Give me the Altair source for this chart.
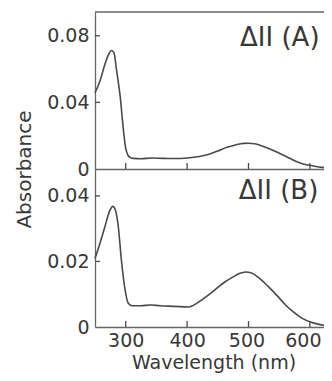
import altair as alt
import pandas as pd

# ---- data ----
wl_a = [250, 258, 266, 272, 277, 281, 285, 288, 291, 294, 297, 300, 303, 307, 312,
        325, 343, 360, 380, 400, 420, 437, 450, 465, 480, 492, 500, 510, 522, 535,
        550, 563, 576, 589, 606, 620, 636]
abs_a = [0.0458, 0.0527, 0.0627, 0.0687, 0.0712, 0.0697, 0.0597, 0.052, 0.0438, 0.032,
         0.021, 0.0125, 0.0088, 0.0070, 0.0064, 0.0062, 0.0066, 0.0064, 0.0063, 0.0066,
         0.0075, 0.0090, 0.0108, 0.0130, 0.0146, 0.0154, 0.0155, 0.0152, 0.0138, 0.0120,
         0.0095, 0.0072, 0.0048, 0.0030, 0.0018, 0.0010, 0.0006]

wl_b = [250, 258, 266, 274, 279, 284, 288, 293, 299, 304, 310, 325, 340, 356, 380,
        402, 410, 421, 435, 449, 462, 475, 485, 495, 505, 519, 532, 547, 560, 573,
        587, 601, 615, 633]
abs_b = [0.0209, 0.0255, 0.0305, 0.0355, 0.0368, 0.0352, 0.0305, 0.0204, 0.0113, 0.0073,
         0.0065, 0.0065, 0.0067, 0.0065, 0.0063, 0.0061, 0.0066, 0.0079, 0.0098, 0.0119,
         0.0138, 0.0153, 0.0163, 0.0168, 0.0165, 0.0147, 0.0124, 0.0095, 0.0068, 0.0046,
         0.0027, 0.0015, 0.0008, 0.0003]

x_ticks = [300, 400, 500, 600]
y_ticks_a = [0, 0.04, 0.08]
y_ticks_b = [0, 0.02, 0.04]
label_a = "\u0394II (A)"
label_b = "\u0394II (B)"
label_a_pos = (551, 0.0788)
label_b_pos = (549, 0.0414)
x_domain = [250, 636]
y_domain_a = [0, 0.0943]
y_domain_b = [0, 0.0482]

W = 237
H_A = 157
H_B = 158
FONT = "DejaVu Sans"
INK = "#383838"
LINE = "#4a4a4a"
YLABEL = "datum.value == 0 ? '0' : format(datum.value, '.2f')"
XOFFSET = {"condition": [{"test": "datum.value == 600", "value": -7},
                         {"test": "datum.value == 500", "value": -2}],
           "value": 0}


def panel(wl, ab, ydom, yticks, h, label, lpos, bottom):
    xs = alt.Scale(domain=x_domain, nice=False, zero=False)
    ys = alt.Scale(domain=ydom, nice=False, zero=False)
    df = pd.DataFrame({"wl": wl, "abs": ab})

    if bottom:
        xaxis = alt.Axis(values=x_ticks, ticks=False, tickSize=0, grid=False,
                         labels=True, labelPadding=4, labelOffset=XOFFSET,
                         title="Wavelength (nm)", titleFontSize=19,
                         titleY=41.5, titleBaseline="alphabetic",
                         labelFlush=False)
        yaxis = alt.Axis(values=yticks, ticks=False, tickSize=0, grid=False,
                         labelPadding=6, labelExpr=YLABEL, title=None)
    else:
        xaxis = alt.Axis(values=x_ticks, ticks=False, tickSize=0, grid=False,
                         labels=False, title=None)
        yaxis = alt.Axis(values=yticks, ticks=False, tickSize=0, grid=False,
                         labelPadding=6, labelExpr=YLABEL, title="Absorbance",
                         titleX=-71, titleY=h, titleAlign="center",
                         titleBaseline="middle", titleAngle=270)

    line = alt.Chart(df).mark_line(color=LINE, strokeWidth=1.6,
                                   interpolate="monotone").encode(
        x=alt.X("wl:Q", scale=xs, axis=xaxis),
        y=alt.Y("abs:Q", scale=ys, axis=yaxis),
    )

    xt = alt.Chart(pd.DataFrame({"t": x_ticks})).mark_rule(
        color=LINE, strokeWidth=1.3).encode(
        x=alt.X("t:Q", scale=xs, axis=xaxis),
        y=alt.value(h), y2=alt.value(h - 6),
    )
    yt = alt.Chart(pd.DataFrame({"t": [v for v in yticks if v > 0]})).mark_rule(
        color=LINE, strokeWidth=1.3).encode(
        y=alt.Y("t:Q", scale=ys, axis=yaxis),
        x=alt.value(0), x2=alt.value(5),
    )
    txt = alt.Chart(pd.DataFrame({"x": [lpos[0]], "y": [lpos[1]], "s": [label]})).mark_text(
        font=FONT, fontSize=26, color=INK, align="center", baseline="middle").encode(
        x=alt.X("x:Q", scale=xs, axis=xaxis),
        y=alt.Y("y:Q", scale=ys, axis=yaxis),
        text="s:N",
    )
    layers = [line, xt, yt, txt]
    if not bottom:
        border = alt.Chart(pd.DataFrame({"a": [0]})).mark_rule(
            color="#666666", strokeWidth=1.3).encode(
            x=alt.value(0), x2=alt.value(W), y=alt.value(0))
        layers.append(border)
    return alt.layer(*layers).properties(width=W, height=h)


top = panel(wl_a, abs_a, y_domain_a, y_ticks_a, H_A, label_a, label_a_pos, False)
bot = panel(wl_b, abs_b, y_domain_b, y_ticks_b, H_B, label_b, label_b_pos, True)

chart = alt.vconcat(top, bot, spacing=0, bounds="flush").properties(
    autosize=alt.AutoSizeParams(type="none"),
    padding={"left": 87, "top": 4, "right": -8, "bottom": 361},
).configure_view(stroke=None).configure_axis(
    domainColor="#666666", domainWidth=1.3,
    labelColor=INK, titleColor=INK,
    labelFont=FONT, titleFont=FONT,
    labelFontSize=19, titleFontSize=20, titleFontWeight="normal",
)

chart.save("out.html", embed_options={"renderer": "svg", "actions": False})
